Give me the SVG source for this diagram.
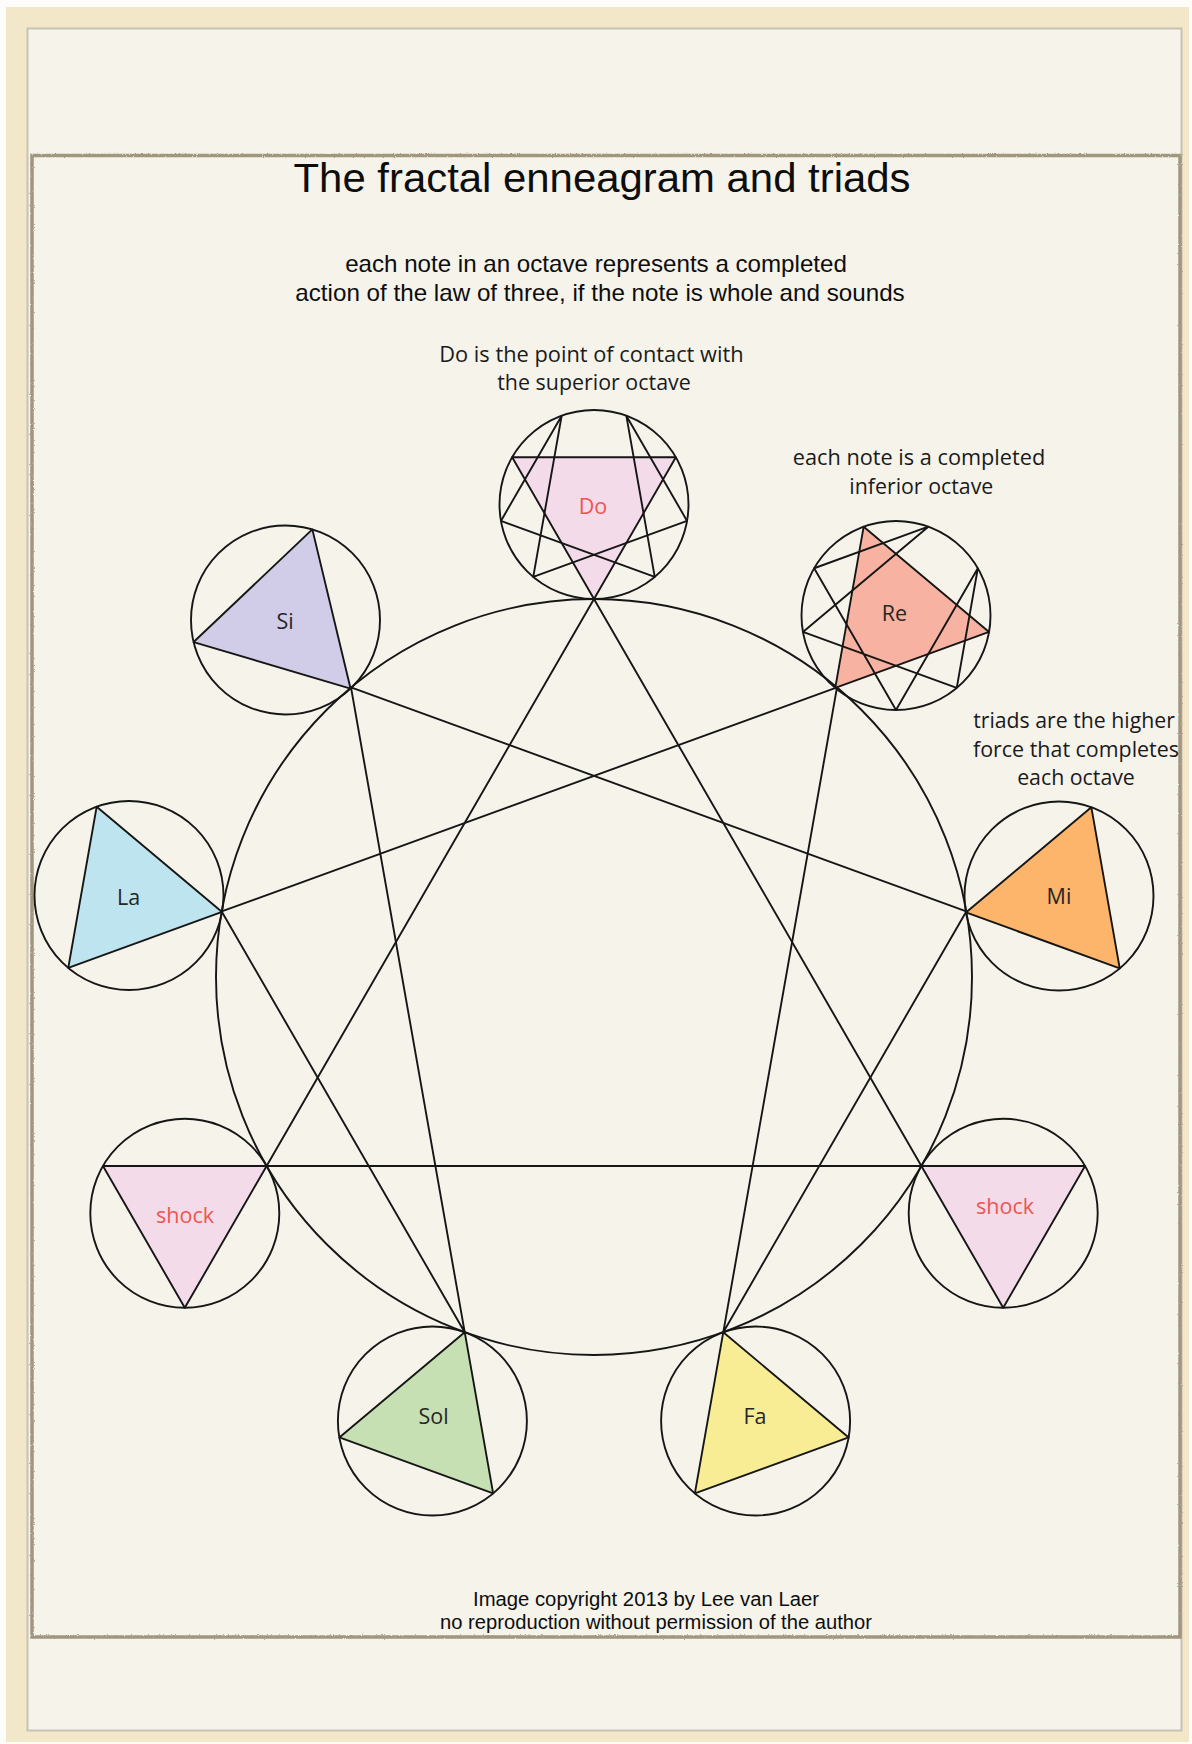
<svg xmlns="http://www.w3.org/2000/svg" width="1192" height="1744" viewBox="0 0 1192 1744">
  <defs>
    <filter id="rough" x="-2%" y="-2%" width="104%" height="104%">
      <feTurbulence type="fractalNoise" baseFrequency="0.9" numOctaves="1" seed="3" result="n"/>
      <feDisplacementMap in="SourceGraphic" in2="n" scale="2.5" xChannelSelector="R" yChannelSelector="G"/>
    </filter>
    <style>
      .ln { fill: none; stroke: #161616; stroke-width: 1.9; stroke-linejoin: round; }
      .tri { stroke: #161616; stroke-width: 1.9; stroke-linejoin: round; }
      .sc { fill: none; stroke: #161616; stroke-width: 1.9; }
      .arial { font-family: "Liberation Sans", Arial, sans-serif; fill: #0d0d0d; }
      .myr { font-family: "Open Sans", "Noto Sans", sans-serif; fill: #1a1a1a; }
      .lbl { font-family: "Open Sans", "Noto Sans", sans-serif; font-size: 21.5px; text-anchor: middle; fill: #262626; }
      .red { fill: #ee5550; }
    </style>
  </defs>

  <!-- background frame -->
  <rect x="0" y="0" width="1192" height="1744" fill="#fdfcf8"/>
  <rect x="6" y="7" width="1183" height="1735" fill="#f2e7c9"/>
  <rect x="27.5" y="28.5" width="1154" height="1702" fill="#f5f3ea" stroke="#c6c2b6" stroke-width="2"/>
  <rect x="32" y="155.5" width="1148" height="1481.5" fill="none" stroke="#a1977f" stroke-width="3.5" filter="url(#rough)"/>

  <!-- texts -->
  <g id="title">
    <text class="arial" x="602" y="191.5" font-size="41" text-anchor="middle" textLength="617" lengthAdjust="spacingAndGlyphs">The fractal enneagram and triads</text>
  </g>
  <g id="subtitle">
    <text class="arial" x="596" y="272.3" font-size="24" text-anchor="middle" textLength="501.7" lengthAdjust="spacingAndGlyphs">each note in an octave represents a completed</text>
    <text class="arial" x="600" y="301" font-size="24" text-anchor="middle" textLength="609.4" lengthAdjust="spacingAndGlyphs">action of the law of three, if the note is whole and sounds</text>
  </g>
  <g id="note-do">
    <text class="myr" x="591.4" y="361.7" font-size="21.7" text-anchor="middle" textLength="304.3" lengthAdjust="spacingAndGlyphs">Do is the point of contact with</text>
    <text class="myr" x="594" y="389.5" font-size="21.7" text-anchor="middle" textLength="193.6" lengthAdjust="spacingAndGlyphs">the superior octave</text>
  </g>
  <g id="note-re">
    <text class="myr" x="919" y="465" font-size="21.5" text-anchor="middle" textLength="252.4" lengthAdjust="spacingAndGlyphs">each note is a completed</text>
    <text class="myr" x="921.3" y="494" font-size="21.5" text-anchor="middle" textLength="144" lengthAdjust="spacingAndGlyphs">inferior octave</text>
  </g>
  <g id="note-mi">
    <text class="myr" x="1074" y="728.3" font-size="21.5" text-anchor="middle" textLength="201.7" lengthAdjust="spacingAndGlyphs">triads are the higher</text>
    <text class="myr" x="1076" y="756.7" font-size="21.5" text-anchor="middle" textLength="206" lengthAdjust="spacingAndGlyphs">force that completes</text>
    <text class="myr" x="1076" y="785" font-size="21.5" text-anchor="middle" textLength="117.7" lengthAdjust="spacingAndGlyphs">each octave</text>
  </g>
  <g id="copyright">
    <text class="arial" x="646" y="1606" font-size="20" text-anchor="middle" textLength="346" lengthAdjust="spacingAndGlyphs">Image copyright 2013 by Lee van Laer</text>
    <text class="arial" x="656" y="1629.3" font-size="20" text-anchor="middle" textLength="432" lengthAdjust="spacingAndGlyphs">no reproduction without permission of the author</text>
  </g>

  <!-- connectors: main enneagram -->
  <g id="connectors">
    <circle class="ln" cx="594" cy="977" r="378"/>
    <path class="ln" d="M594,599 L921.4,1166 L266.6,1166 Z"/>
    <path class="ln" d="M837,687.4 L723.3,1332.2 L966.3,911.4 L351,687.4 L464.7,1332.2 L221.7,911.4 Z"/>
  </g>

  <!-- nodes -->
  <g id="node-do">
    <polygon class="tri" fill="#f3dbe9" points="594,599 512.16,457.25 675.84,457.25"/>
    <path class="ln" d="M533.26,576.89 L561.68,415.7 L500.94,520.9 L654.74,576.89 L626.32,415.7 L687.06,520.9 Z"/>
    <circle class="sc" cx="594" cy="504.5" r="94.5"/>
    <text class="lbl red" x="593" y="514">Do</text>
  </g>
  <g id="node-re">
    <polygon class="tri" fill="#f8b2a2" points="835.26,687.89 863.68,526.7 989.06,631.9"/>
    <path class="ln" d="M802.94,631.9 L928.32,526.7 L814.16,568.25 L896,710 L977.84,568.25 L956.74,687.89 Z"/>
    <circle class="sc" cx="896" cy="615.5" r="94.5"/>
    <text class="lbl" x="894.5" y="621">Re</text>
  </g>
  <g id="node-mi">
    <polygon class="tri" fill="#fdb46b" points="965.94,912.41 1091.32,807.2 1119.74,968.39"/>
    <circle class="sc" cx="1059" cy="896" r="94.5"/>
    <text class="lbl" x="1059" y="904">Mi</text>
  </g>
  <g id="node-shock-right">
    <polygon class="tri" fill="#f3dbe9" points="921.36,1166 1085.04,1166 1003.2,1307.75"/>
    <circle class="sc" cx="1003.2" cy="1213.25" r="94.5"/>
    <text class="lbl red" x="1005" y="1213.5">shock</text>
  </g>
  <g id="node-fa">
    <polygon class="tri" fill="#f8ed94" points="723.28,1332.2 848.66,1437.41 694.86,1493.39"/>
    <circle class="sc" cx="755.6" cy="1421" r="94.5"/>
    <text class="lbl" x="755" y="1423.5">Fa</text>
  </g>
  <g id="node-sol">
    <polygon class="tri" fill="#c6e0b4" points="464.72,1332.2 493.14,1493.39 339.34,1437.41"/>
    <circle class="sc" cx="432.4" cy="1421" r="94.5"/>
    <text class="lbl" x="433.5" y="1423.5">Sol</text>
  </g>
  <g id="node-shock-left">
    <polygon class="tri" fill="#f3dbe9" points="266.64,1166 184.8,1307.75 102.96,1166"/>
    <circle class="sc" cx="184.8" cy="1213.25" r="94.5"/>
    <text class="lbl red" x="185" y="1223">shock</text>
  </g>
  <g id="node-la">
    <polygon class="tri" fill="#bde4ef" points="222.06,911.91 68.26,967.89 96.68,806.7"/>
    <circle class="sc" cx="129" cy="895.5" r="94.5"/>
    <text class="lbl" x="128.5" y="905">La</text>
  </g>
  <g id="node-si">
    <polygon class="tri" fill="#d1cde8" points="350.55,688.55 193.61,642.06 312.34,529.39"/>
    <circle class="sc" cx="285.5" cy="620" r="94.5"/>
    <text class="lbl" x="285" y="628.5">Si</text>
  </g>
</svg>
